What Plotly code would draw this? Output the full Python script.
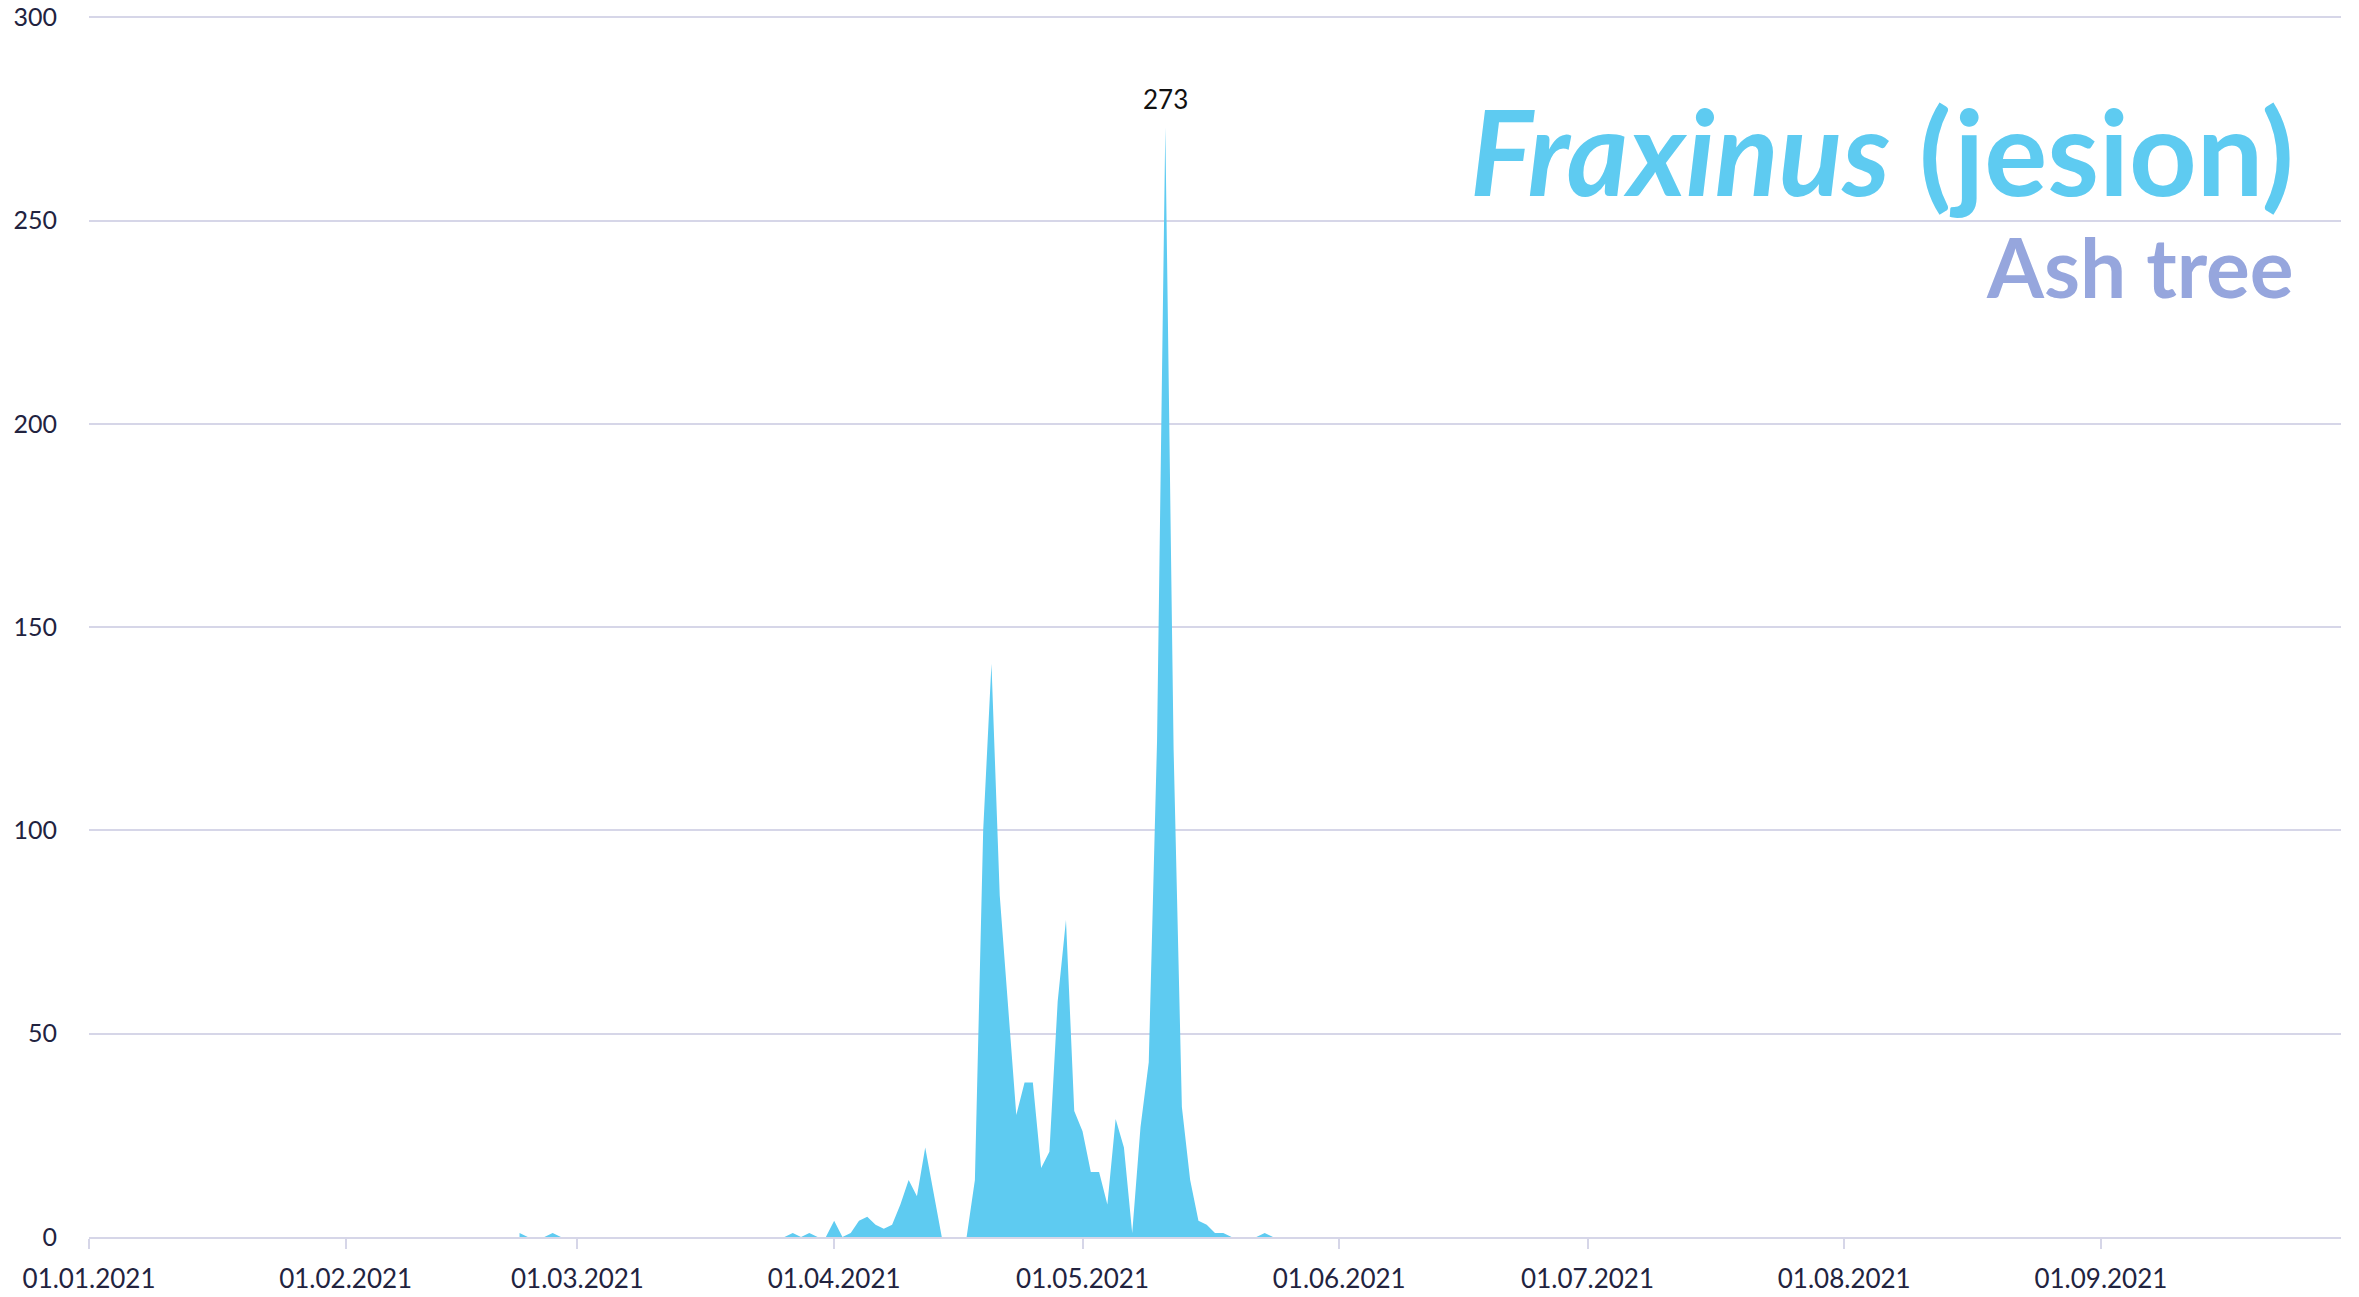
import pandas as pd
import plotly.graph_objects as go

# daily pollen counts for Fraxinus, season 2021 (starts 22.02.2021)
start_date = "2021-02-22"
pollen = [1, 0, 0, 0, 1, 0,
          0, 0, 0, 0, 0, 0, 0, 0, 0, 0, 0, 0, 0, 0, 0, 0, 0, 0, 0, 0, 0, 0, 0, 0, 0, 0, 0,
          1, 0, 1, 0, 0, 4, 0, 1, 4, 5, 3, 2, 3, 8, 14, 10, 22, 11, 0, 0, 0, 0,
          14, 100, 141, 84, 57, 30, 38, 38, 17, 21, 58, 78, 31, 26, 16, 16, 8, 29, 22, 1,
          27, 43, 122, 273, 120, 32, 14, 4, 3, 1, 1, 0, 0, 0, 0, 1, 0, 0]
dates = pd.date_range(start_date, periods=len(pollen), freq="D")

peak_i = pollen.index(max(pollen))

blue = "#5ECBF1"
lavender = "#96A6DD"
grid = "#D6D6E8"
ink = "#22233F"

fig = go.Figure()
fig.add_trace(go.Scatter(
    x=dates, y=pollen,
    mode="lines", fill="tozeroy",
    line=dict(width=0, color=blue),
    fillcolor=blue,
    hoverinfo="x+y",
    showlegend=False,
))

fig.add_annotation(x=dates[peak_i], y=pollen[peak_i], text=str(pollen[peak_i]),
                   showarrow=False, yanchor="bottom", yshift=10,
                   font=dict(size=26, color="#111111", family="Lato"))

fig.add_annotation(xref="paper", yref="paper", x=0.98, y=0.889,
                   xanchor="right", yanchor="middle",
                   text="<i>Fraxinus</i> (jesion)", showarrow=False,
                   font=dict(size=118, color=blue, family="Lato", weight=700))
fig.add_annotation(xref="paper", yref="paper", x=0.98, y=0.795,
                   xanchor="right", yanchor="middle",
                   text="Ash tree", showarrow=False,
                   font=dict(size=82, color=lavender, family="Lato", weight=700))

fig.update_layout(
    width=2359, height=1297,
    margin=dict(l=89, r=18, t=15, b=60),
    plot_bgcolor="white", paper_bgcolor="white",
    font=dict(family="Lato", color=ink, size=25),
    xaxis=dict(
        type="date",
        range=["2021-01-01", "2021-09-30"],
        dtick="M1", tick0="2021-01-01",
        tickformat="%d.%m.%Y",
        showgrid=False, automargin=False,
        ticks="outside", ticklen=10, tickcolor=grid, tickwidth=2,
        showline=True, linecolor=grid, linewidth=2,
        ticklabelstandoff=8,
        tickfont=dict(size=26, color=ink),
    ),
    yaxis=dict(
        range=[0, 300.6], tickvals=[0, 50, 100, 150, 200, 250, 300],
        showgrid=True, gridcolor=grid, gridwidth=1.5,
        zeroline=False, showline=False, automargin=False,
        ticks="", ticklabelstandoff=31, ticklabeloverflow="allow",
        tickfont=dict(size=25, color=ink),
    ),
)

# drop the default page margin so the figure fills the window exactly
fig.write_html("out.html", config={"displayModeBar": False},
               post_script="document.body.style.margin='0';")
